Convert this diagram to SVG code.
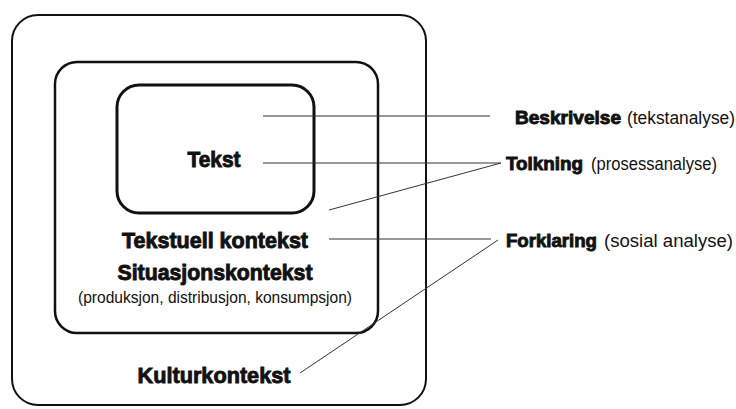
<svg xmlns="http://www.w3.org/2000/svg" width="736" height="409" viewBox="0 0 736 409">
  <style>
    .box { fill: none; stroke: #111; }
    .b { font-family: "Liberation Sans", Arial, sans-serif; font-weight: bold; fill: #111; stroke: #111; stroke-width: 0.9; }
    .r { font-family: "Liberation Sans", Arial, sans-serif; font-weight: normal; fill: #111; }
    .conn line { stroke: #333; stroke-width: 1; }
  </style>
  <rect x="0" y="0" width="736" height="409" fill="#ffffff"/>
  <g id="kulturkontekst">
    <rect class="box" x="12" y="15" width="414" height="390" rx="26" ry="26" stroke-width="2"/>
    <text class="b" x="214" y="383" font-size="22.5" text-anchor="middle" textLength="153" lengthAdjust="spacingAndGlyphs">Kulturkontekst</text>
  </g>
  <g id="situasjonskontekst">
    <rect class="box" x="55" y="62" width="323" height="271" rx="22" ry="22" stroke-width="2.5"/>
    <text class="b" x="215" y="248" font-size="21.5" text-anchor="middle" textLength="186" lengthAdjust="spacingAndGlyphs">Tekstuell kontekst</text>
    <text class="b" x="215" y="280" font-size="21.5" text-anchor="middle" textLength="195" lengthAdjust="spacingAndGlyphs">Situasjonskontekst</text>
    <text class="r" x="215" y="303" font-size="16.5" text-anchor="middle" textLength="274" lengthAdjust="spacingAndGlyphs">(produksjon, distribusjon, konsumpsjon)</text>
  </g>
  <g id="tekst">
    <rect class="box" x="117" y="85" width="197" height="128" rx="22" ry="22" stroke-width="3"/>
    <text class="b" x="214" y="167" font-size="21.5" text-anchor="middle" textLength="53" lengthAdjust="spacingAndGlyphs">Tekst</text>
  </g>
  <g id="beskrivelse">
    <text class="b" x="515" y="124" font-size="18.5" stroke-width="0.7" textLength="106" lengthAdjust="spacingAndGlyphs">Beskrivelse</text>
    <text class="r" x="627" y="124" font-size="17.5" textLength="108" lengthAdjust="spacingAndGlyphs">(tekstanalyse)</text>
  </g>
  <g id="tolkning">
    <text class="b" x="506" y="170" font-size="18.5" stroke-width="0.7" textLength="77" lengthAdjust="spacingAndGlyphs">Tolkning</text>
    <text class="r" x="591" y="170" font-size="17.5" textLength="126" lengthAdjust="spacingAndGlyphs">(prosessanalyse)</text>
  </g>
  <g id="forklaring">
    <text class="b" x="506" y="247" font-size="18.5" stroke-width="0.7" textLength="91" lengthAdjust="spacingAndGlyphs">Forklaring</text>
    <text class="r" x="604" y="247" font-size="17.5" textLength="129" lengthAdjust="spacingAndGlyphs">(sosial analyse)</text>
  </g>
  <g id="connectors" class="conn">
    <line x1="263" y1="116" x2="490" y2="116"/>
    <line x1="263" y1="163" x2="501" y2="163"/>
    <line x1="329" y1="210" x2="501" y2="163"/>
    <line x1="329" y1="239" x2="491" y2="239"/>
    <line x1="300" y1="373" x2="498" y2="240"/>
  </g>
</svg>
